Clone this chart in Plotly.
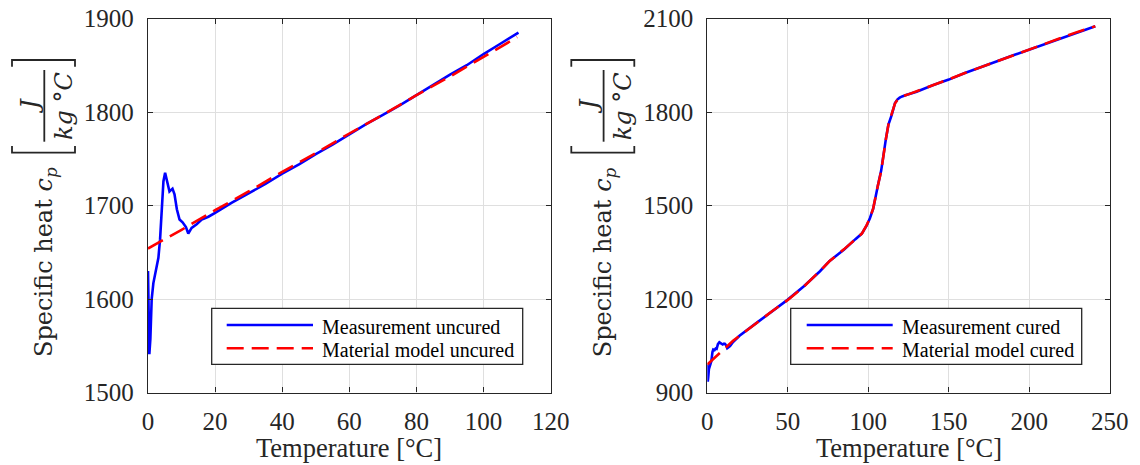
import plotly.graph_objects as go

# ---- Uncured sample: measured specific heat and fitted material model ----
t_meas_uncured = [0, 0.1, 0.4, 0.7, 1.1, 1.6, 2.4, 3.1, 3.6, 4.1, 4.6, 5.1, 5.6, 6.4,
                  7.3, 7.9, 8.6, 9.4, 10.3, 11.3, 12.0, 13.0, 14.5, 16.0, 18.0, 20,
                  25, 30, 35, 40, 45, 50, 55, 60, 65, 70, 75, 80, 85, 90, 95, 100, 105, 110.4]
cp_meas_uncured = [1630, 1585, 1541, 1557, 1600, 1617, 1632, 1644, 1664, 1696, 1726, 1735,
                   1728, 1715, 1718, 1712, 1696, 1685, 1682, 1677, 1670, 1676, 1680, 1685,
                   1688, 1692, 1703, 1713, 1723, 1734, 1744, 1755, 1765, 1776, 1787, 1797,
                   1807, 1818, 1829, 1840, 1850, 1862, 1873, 1885]
t_model_uncured = [0, 10, 20, 30, 40, 50, 60, 70, 80, 90, 100, 110]
cp_model_uncured = [1654, 1674, 1695, 1715, 1736, 1756, 1777, 1797, 1818, 1838, 1859, 1880]

# ---- Cured sample ----
t_meas_cured = [0, 0.3, 0.6, 1.0, 1.7, 2.5, 3.2, 3.7, 4.5, 5.2, 5.8, 6.6, 7.5, 8.5, 9.6,
                10.4, 11.0, 11.8, 12.4, 13.2, 14.1, 16, 18.3, 20, 30, 40, 50, 60, 70, 76,
                85, 92, 96, 99, 101, 103, 105, 106, 108, 110.3, 111, 112.5, 114.5, 116.6,
                118, 119.5, 121, 124, 130, 140, 150, 160, 170, 180, 190, 200, 210, 220,
                230, 241]
cp_meas_cured = [990, 935, 950, 975, 985, 1000, 1030, 1038, 1036, 1041, 1040, 1055, 1061,
                 1058, 1054, 1057, 1056, 1050, 1042, 1045, 1049, 1062, 1075, 1082, 1121,
                 1160, 1198, 1241, 1289, 1322, 1359, 1392, 1410, 1436, 1459, 1489, 1545,
                 1565, 1612, 1700, 1716, 1760, 1790, 1829, 1840, 1846, 1850, 1855, 1865,
                 1886, 1904, 1925, 1943, 1963, 1982, 2000, 2018, 2038, 2056, 2075]
t_model_cured = [0, 4, 8, 12, 16, 20, 30, 40, 50, 60, 70, 76, 85, 92, 96, 99, 101, 103,
                 105, 106, 108, 110.3, 111, 112.5, 114.5, 116.6, 118, 119.5, 121, 124, 130,
                 140, 150, 160, 170, 180, 190, 200, 210, 220, 230, 241]
cp_model_cured = [990, 1008, 1027, 1047, 1066, 1082, 1122, 1160, 1197, 1240, 1290, 1322,
                  1360, 1393, 1410, 1437, 1460, 1490, 1545, 1565, 1610, 1700, 1715, 1760,
                  1790, 1828, 1838, 1845, 1850, 1855, 1866, 1886, 1905, 1925, 1944, 1963,
                  1981, 2000, 2019, 2038, 2057, 2075]

x_ticks_uncured = [0, 20, 40, 60, 80, 100, 120]
y_ticks_uncured = [1500, 1600, 1700, 1800, 1900]
x_ticks_cured = [0, 50, 100, 150, 200, 250]
y_ticks_cured = [900, 1200, 1500, 1800, 2100]

legend_uncured = ["Measurement uncured", "Material model uncured"]
legend_cured = ["Measurement cured", "Material model cured"]
y_title = "Specific heat <i>c</i><sub><i>p</i></sub>"
x_title = "Temperature [°C]"

W, H = 1140, 465
FONT = "Liberation Serif"
VFONT = "DejaVu Serif"  # serif face used for the vertical (rotated) label
AX = "#262626"
GRID = "#dfdfdf"
BLUE = "#0000ff"
RED = "#ff0000"
DASH = "17px,8px"


def px(x):
    return x / W


def py(y):
    return 1 - y / H


# plot-area geometry in pixels
LEFT_X0, LEFT_X1 = 148.0, 550.7
RIGHT_X0, RIGHT_X1 = 707.3, 1109.8
TOP, BOTTOM = 18.5, 392.5

fig = go.Figure()
fig.add_trace(go.Scatter(x=t_meas_uncured, y=cp_meas_uncured, mode="lines",
                         line=dict(color=BLUE, width=2.6), name=legend_uncured[0],
                         xaxis="x", yaxis="y"))
fig.add_trace(go.Scatter(x=t_model_uncured, y=cp_model_uncured, mode="lines",
                         line=dict(color=RED, width=2.6, dash=DASH), name=legend_uncured[1],
                         xaxis="x", yaxis="y"))
fig.add_trace(go.Scatter(x=t_meas_cured, y=cp_meas_cured, mode="lines",
                         line=dict(color=BLUE, width=2.6), name=legend_cured[0],
                         xaxis="x2", yaxis="y2"))
fig.add_trace(go.Scatter(x=t_model_cured, y=cp_model_cured, mode="lines",
                         line=dict(color=RED, width=2.6, dash=DASH), name=legend_cured[1],
                         xaxis="x2", yaxis="y2"))

axis_style = dict(
    showline=True, linecolor=AX, linewidth=1.3, mirror="ticks",
    ticks="inside", ticklen=5, tickwidth=1.3, tickcolor=AX,
    showgrid=True, gridcolor=GRID, gridwidth=1, zeroline=False,
    tickfont=dict(family=FONT, size=25, color=AX), automargin=False,
    fixedrange=True,
)

fig.update_layout(
    width=W, height=H,
    margin=dict(l=0, r=0, t=0, b=0),
    paper_bgcolor="white", plot_bgcolor="white",
    showlegend=False,
    font=dict(family=FONT),
    xaxis=dict(domain=[px(LEFT_X0), px(LEFT_X1)], range=[0, 120], tickvals=x_ticks_uncured,
               anchor="y", ticklabelstandoff=6, **axis_style),
    yaxis=dict(domain=[py(BOTTOM), py(TOP)], range=[1500, 1900], tickvals=y_ticks_uncured,
               anchor="x", ticklabelstandoff=8, **axis_style),
    xaxis2=dict(domain=[px(RIGHT_X0), px(RIGHT_X1)], range=[0, 250], tickvals=x_ticks_cured,
                anchor="y2", ticklabelstandoff=6, **axis_style),
    yaxis2=dict(domain=[py(BOTTOM), py(TOP)], range=[900, 2100], tickvals=y_ticks_cured,
                anchor="x2", ticklabelstandoff=8, **axis_style),
)

shapes = []
annotations = []


def text(x, y, s, size, angle=0, xanchor="center", color=AX, family=FONT):
    annotations.append(dict(
        x=px(x), y=py(y), xref="paper", yref="paper", text=s, showarrow=False,
        textangle=angle, xanchor=xanchor, yanchor="middle",
        font=dict(family=family, size=size, color=color),
    ))


def ylabel(off):
    # "Specific heat c_p [J / (kg °C)]" set vertically, fraction built by hand
    text(off + 45, 262, y_title, 24, angle=-90, family=VFONT)
    text(off + 30, 106, "<i>J</i>", 24, angle=-90, family=VFONT)
    text(off + 64, 106, "<i>kg</i> °<i>C</i>", 24, angle=-90, family=VFONT)
    shapes.append(dict(type="line", xref="paper", yref="paper",
                       x0=px(off + 44.3), x1=px(off + 44.3), y0=py(70), y1=py(141.7),
                       line=dict(color=AX, width=1.8)))
    for yb, ye in ((60, 66.7), (152.7, 146)):
        path = (f"M {px(off + 12)},{py(ye)} L {px(off + 12)},{py(yb)} "
                f"L {px(off + 75)},{py(yb)} L {px(off + 75)},{py(ye)}")
        shapes.append(dict(type="path", path=path, xref="paper", yref="paper",
                           line=dict(color=AX, width=1.8)))


def legend(x0, x1, line_x0, line_x1, labels):
    shapes.append(dict(type="rect", xref="paper", yref="paper",
                       x0=px(x0), x1=px(x1), y0=py(364.3), y1=py(308.3),
                       fillcolor="white", line=dict(color=AX, width=1.3), layer="above"))
    shapes.append(dict(type="line", xref="paper", yref="paper",
                       x0=px(line_x0), x1=px(line_x1), y0=py(325), y1=py(325),
                       line=dict(color=BLUE, width=2.6)))
    shapes.append(dict(type="line", xref="paper", yref="paper",
                       x0=px(line_x0), x1=px(line_x1), y0=py(348.3), y1=py(348.3),
                       line=dict(color=RED, width=2.6, dash=DASH)))
    text(line_x1 + 7, 326.5, labels[0], 20, xanchor="left", color="black")
    text(line_x1 + 7, 349.5, labels[1], 20, xanchor="left", color="black")


ylabel(0)
ylabel(RIGHT_X0 - LEFT_X0)
text((LEFT_X0 + LEFT_X1) / 2, 448, x_title, 26.5)
text((RIGHT_X0 + RIGHT_X1) / 2, 448, x_title, 26.5)
legend(211.7, 522.7, 226.7, 313, legend_uncured)
legend(790.7, 1081.7, 806.7, 892.7, legend_cured)

fig.update_layout(shapes=shapes, annotations=annotations)
fig.write_html("out.html")
